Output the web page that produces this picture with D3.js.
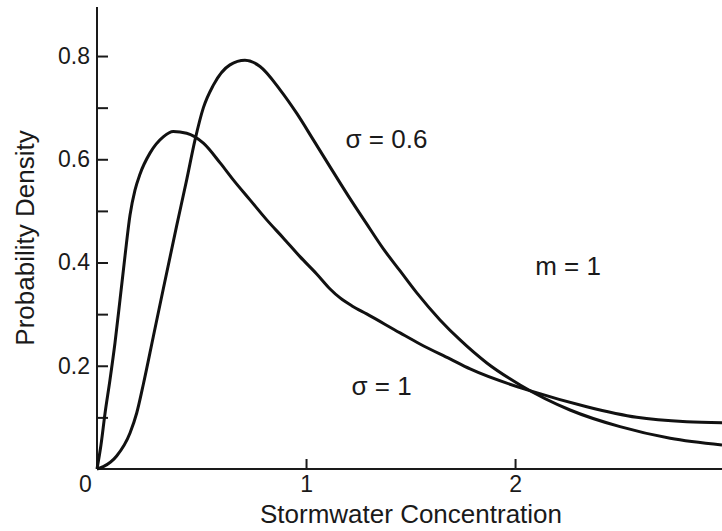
<!DOCTYPE html>
<html>
<head>
<meta charset="utf-8">
<script src="https://cdn.jsdelivr.net/npm/d3@7"></script>
<style>
  html, body { margin: 0; padding: 0; background: #fff; }
  svg { display: block; }
  text { font-family: "Liberation Sans", Arial, Helvetica, sans-serif; fill: #1a1a1a; }
</style>
</head>
<body>
<svg id="chart" width="722" height="531"></svg>
<script>
// ---- data ----
const sigma06X = [0, 0.030, 0.094, 0.158, 0.190, 0.222, 0.269, 0.317, 0.381, 0.429, 0.469, 0.509, 0.556, 0.636, 0.708, 0.780, 0.876, 0.955, 1.035, 1.115, 1.202, 1.287, 1.370, 1.450, 1.530, 1.641, 1.737, 1.865, 2.024, 2.263, 2.502, 2.742, 2.990];
const sigma06Y = [0, 0.0045, 0.0252, 0.0698, 0.1085, 0.1647, 0.2558, 0.3488, 0.4709, 0.5601, 0.6376, 0.7000, 0.7432, 0.7829, 0.7917, 0.7797, 0.7345, 0.6893, 0.6376, 0.5853, 0.5291, 0.4767, 0.4264, 0.3837, 0.3411, 0.2888, 0.2500, 0.2054, 0.1628, 0.1143, 0.0820, 0.0595, 0.0465];

const sigma1X = [0, 0.019, 0.038, 0.062, 0.086, 0.110, 0.134, 0.158, 0.182, 0.206, 0.254, 0.317, 0.365, 0.429, 0.509, 0.589, 0.652, 0.732, 0.812, 0.891, 0.971, 1.051, 1.115, 1.163, 1.220, 1.290, 1.450, 1.545, 1.689, 1.785, 2.086, 2.343, 2.582, 2.821, 2.990];
const sigma1Y = [0, 0.0465, 0.1066, 0.1725, 0.2442, 0.3275, 0.4128, 0.4922, 0.5407, 0.5717, 0.6124, 0.6434, 0.6537, 0.6505, 0.6312, 0.5930, 0.5601, 0.5213, 0.4826, 0.4477, 0.4114, 0.3779, 0.3488, 0.3314, 0.3159, 0.3004, 0.2636, 0.2422, 0.2132, 0.1938, 0.1498, 0.1207, 0.1002, 0.0917, 0.0897];

const xTicks = [0, 1, 2];
const xTickLabels = ["0", "1", "2"];
const yTicks = [0.1, 0.2, 0.3, 0.4, 0.5, 0.6, 0.7, 0.8];
const yTickLabels = ["", "0.2", "", "0.4", "", "0.6", "", "0.8"];

const annotations = [
  { text: "σ = 0.6", x: 1.189, y: 0.622 },
  { text: "m = 1",   x: 2.096, y: 0.375 },
  { text: "σ = 1",   x: 1.218, y: 0.143 }
];

const xTitle = "Stormwater Concentration";
const yTitle = "Probability Density";

// ---- layout ----
const svg = d3.select("#chart");
const x = d3.scaleLinear().domain([0, 2.990]).range([97, 722]);
const y = d3.scaleLinear().domain([0, 0.895]).range([469, 7]);

// y axis
const yAxis = d3.axisLeft(y)
  .tickValues(yTicks)
  .tickFormat((d, i) => yTickLabels[i])
  .tickSizeInner(-11)
  .tickSizeOuter(0)
  .tickPadding(7);
const gy = svg.append("g").attr("transform", `translate(${x(0)},0)`).call(yAxis);
gy.select(".domain").attr("stroke", "#1a1a1a").attr("stroke-width", 2)
  .attr("d", `M0,${y(0.895)}V${y(0)}`);
gy.selectAll(".tick line").attr("stroke", "#1a1a1a").attr("stroke-width", 2);
gy.selectAll(".tick text").style("font-size", "23px").attr("fill", "#1a1a1a")
  .style("font-family", "'Liberation Sans', Arial, sans-serif");

// x axis
const xAxis = d3.axisBottom(x)
  .tickValues(xTicks)
  .tickFormat((d, i) => xTickLabels[i])
  .tickSizeInner(-10)
  .tickSizeOuter(0)
  .tickPadding(7);
const gx = svg.append("g").attr("transform", `translate(0,${y(0)})`).call(xAxis);
gx.select(".domain").attr("stroke", "#1a1a1a").attr("stroke-width", 2)
  .attr("d", `M${x(0)},0H${x(2.990)}`);
gx.selectAll(".tick line").attr("stroke", "#1a1a1a").attr("stroke-width", 2)
  .filter(d => d === 0).remove();
gx.selectAll(".tick text").style("font-size", "23px").attr("fill", "#1a1a1a")
  .style("font-family", "'Liberation Sans', Arial, sans-serif");
gx.selectAll(".tick text").filter(d => d === 0).attr("x", -12);

// curves
const line = d3.line()
  .x(d => x(d[0]))
  .y(d => y(d[1]))
  .curve(d3.curveMonotoneX);

const series = [
  d3.zip(sigma06X, sigma06Y),
  d3.zip(sigma1X, sigma1Y)
];
svg.append("g").selectAll("path.curve")
  .data(series)
  .join("path")
  .attr("class", "curve")
  .attr("fill", "none")
  .attr("stroke", "#111")
  .attr("stroke-width", 3)
  .attr("stroke-linejoin", "round")
  .attr("d", line);

// annotations
svg.append("g").selectAll("text.ann")
  .data(annotations)
  .join("text")
  .attr("class", "ann")
  .attr("x", d => x(d.x))
  .attr("y", d => y(d.y))
  .style("font-size", "26px")
  .text(d => d.text);

// axis titles
svg.append("text")
  .attr("x", 411)
  .attr("y", 523)
  .attr("text-anchor", "middle")
  .style("font-size", "26px")
  .text(xTitle);

svg.append("text")
  .attr("transform", `translate(34,238) rotate(-90)`)
  .attr("text-anchor", "middle")
  .style("font-size", "26px")
  .text(yTitle);
</script>
</body>
</html>
